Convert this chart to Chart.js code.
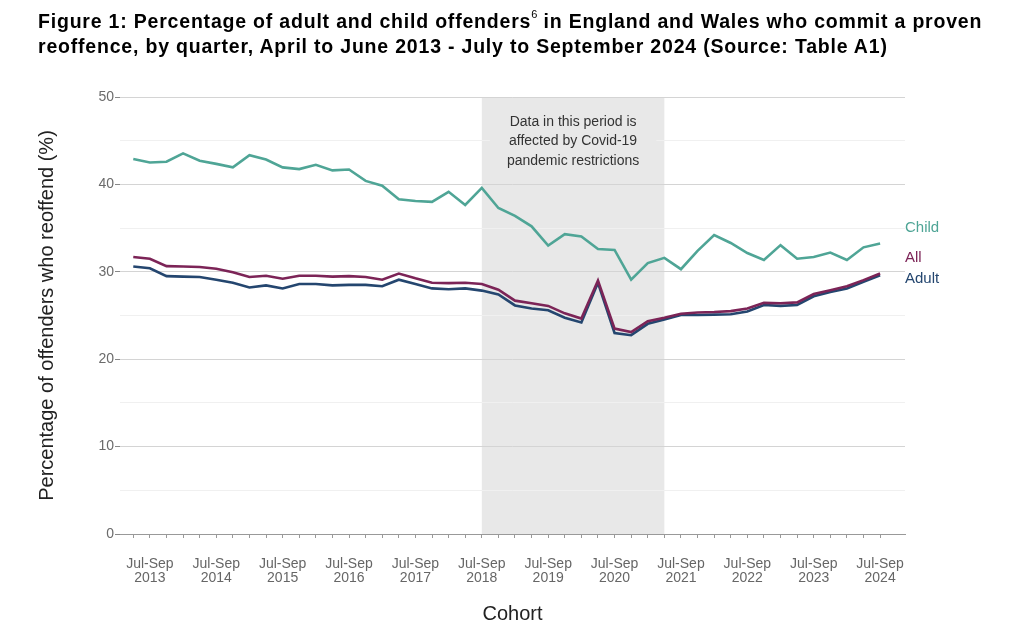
<!DOCTYPE html>
<html>
<head>
<meta charset="utf-8">
<script src="https://cdn.jsdelivr.net/npm/chart.js@4.4.1/dist/chart.umd.min.js"></script>
<style>
    html, body { margin: 0; padding: 0; background: #fff; }
    #wrap { position: relative; width: 1024px; height: 642px; }
    #title {
        position: absolute; left: 38px; top: 4px;
        font-family: "Liberation Sans", Arial, sans-serif;
        font-weight: bold; font-size: 19.5px; line-height: 25px; color: #000;
        letter-spacing: 0.8px;
        white-space: nowrap;
    }
    #title sup { font-size: 11px; font-weight: normal; letter-spacing: 0; position: relative; top: -2px; }
    canvas { position: absolute; left: 0; top: 0; }
</style>
</head>
<body>
<div id="wrap">
    <canvas id="reoffendChart" width="1024" height="642"></canvas>
    <div id="title">Figure 1: Percentage of adult and child offenders<sup>6</sup> in England and Wales who commit a proven<br>reoffence, by quarter, April to June 2013 - July to September 2024 (Source: Table A1)</div>
</div>
<script>
// Quý (cohort)
const quarters = [
    'Apr-Jun 2013', 'Jul-Sep 2013', 'Oct-Dec 2013',
    'Jan-Mar 2014', 'Apr-Jun 2014', 'Jul-Sep 2014', 'Oct-Dec 2014',
    'Jan-Mar 2015', 'Apr-Jun 2015', 'Jul-Sep 2015', 'Oct-Dec 2015',
    'Jan-Mar 2016', 'Apr-Jun 2016', 'Jul-Sep 2016', 'Oct-Dec 2016',
    'Jan-Mar 2017', 'Apr-Jun 2017', 'Jul-Sep 2017', 'Oct-Dec 2017',
    'Jan-Mar 2018', 'Apr-Jun 2018', 'Jul-Sep 2018', 'Oct-Dec 2018',
    'Jan-Mar 2019', 'Apr-Jun 2019', 'Jul-Sep 2019', 'Oct-Dec 2019',
    'Jan-Mar 2020', 'Apr-Jun 2020', 'Jul-Sep 2020', 'Oct-Dec 2020',
    'Jan-Mar 2021', 'Apr-Jun 2021', 'Jul-Sep 2021', 'Oct-Dec 2021',
    'Jan-Mar 2022', 'Apr-Jun 2022', 'Jul-Sep 2022', 'Oct-Dec 2022',
    'Jan-Mar 2023', 'Apr-Jun 2023', 'Jul-Sep 2023', 'Oct-Dec 2023',
    'Jan-Mar 2024', 'Apr-Jun 2024', 'Jul-Sep 2024'
];

const childRate = [
    42.9, 42.5, 42.6, 43.55, 42.7, 42.35, 41.95, 43.35, 42.85, 41.95,
    41.75, 42.25, 41.6, 41.7, 40.4, 39.85, 38.3, 38.1, 38.0, 39.15,
    37.65, 39.6, 37.3, 36.4, 35.2, 33.0, 34.3, 34.05, 32.6, 32.5,
    29.1, 31.0, 31.6, 30.3, 32.4, 34.2, 33.3, 32.15, 31.35, 33.05,
    31.5, 31.7, 32.2, 31.35, 32.8, 33.25
];

const allRate = [
    31.7, 31.5, 30.65, 30.6, 30.55, 30.35, 29.95, 29.4, 29.55, 29.2,
    29.55, 29.55, 29.45, 29.5, 29.4, 29.1, 29.8, 29.25, 28.75, 28.7,
    28.75, 28.6, 27.95, 26.7, 26.4, 26.1, 25.25, 24.65, 29.0, 23.5,
    23.1, 24.35, 24.75, 25.2, 25.35, 25.4, 25.5, 25.8, 26.45, 26.4,
    26.5, 27.45, 27.9, 28.35, 29.05, 29.8
];

const adultRate = [
    30.6, 30.4, 29.5, 29.45, 29.4, 29.1, 28.75, 28.2, 28.45, 28.1,
    28.6, 28.6, 28.45, 28.5, 28.5, 28.35, 29.1, 28.6, 28.1, 28.0,
    28.1, 27.85, 27.4, 26.15, 25.8, 25.6, 24.75, 24.2, 28.75, 23.0,
    22.75, 24.05, 24.55, 25.05, 25.05, 25.1, 25.15, 25.45, 26.2, 26.1,
    26.2, 27.2, 27.7, 28.1, 28.85, 29.6
];

const yTicks = [0, 10, 20, 30, 40, 50];

// Giai đoạn Covid (chỉ số quý đầu / cuối)
const covidRange = [21, 32];
const covidNote = ['Data in this period is', 'affected by Covid-19', 'pandemic restrictions'];

// Nhãn cuối đường
const seriesNames = ['Child', 'All', 'Adult'];
const seriesColors = ['#4fa596', '#7c2457', '#24466f'];
const labelValues = [35.0, 31.6, 29.2];

const FONT = '"Liberation Sans", Arial, sans-serif';

function toPoints(values) {
    return values.map((v, i) => ({ x: i, y: v }));
}

function covidBounds(chart) {
    const x = chart.scales.x;
    return [x.getPixelForValue(covidRange[0]), x.getPixelForValue(covidRange[1])];
}

const covidPlugin = {
    id: 'covidShade',
    // nền xám vẽ trước lưới
    beforeDraw(chart) {
        const { ctx, chartArea } = chart;
        const [x1, x2] = covidBounds(chart);
        ctx.save();
        ctx.fillStyle = '#e8e8e8';
        ctx.fillRect(x1, chartArea.top, x2 - x1, chartArea.bottom - chartArea.top);
        ctx.restore();
    },
    // chữ vẽ sau lưới
    beforeDatasetsDraw(chart) {
        const { ctx, chartArea } = chart;
        const [x1, x2] = covidBounds(chart);
        ctx.save();
        ctx.fillStyle = '#e8e8e8';
        ctx.fillRect(x1 + 8, chartArea.top + 14, x2 - x1 - 16, 58);
        ctx.fillStyle = '#333';
        ctx.font = '14px ' + FONT;
        ctx.textAlign = 'center';
        ctx.textBaseline = 'middle';
        const cx = (x1 + x2) / 2;
        covidNote.forEach((line, i) => {
            ctx.fillText(line, cx, chartArea.top + 25 + i * 19.5);
        });
        ctx.restore();
    }
};

const endLabelPlugin = {
    id: 'endLabels',
    afterDatasetsDraw(chart) {
        const { ctx, chartArea, scales } = chart;
        ctx.save();
        ctx.font = '15px ' + FONT;
        ctx.textAlign = 'left';
        ctx.textBaseline = 'middle';
        seriesNames.forEach((name, i) => {
            ctx.fillStyle = seriesColors[i];
            ctx.fillText(name, chartArea.right, scales.y.getPixelForValue(labelValues[i]));
        });
        ctx.restore();
    }
};

const ctx = document.getElementById('reoffendChart').getContext('2d');

new Chart(ctx, {
    type: 'line',
    data: {
        datasets: [
            { label: 'Child', data: toPoints(childRate), borderColor: seriesColors[0] },
            { label: 'All', data: toPoints(allRate), borderColor: seriesColors[1] },
            { label: 'Adult', data: toPoints(adultRate), borderColor: seriesColors[2] }
        ].map(ds => Object.assign(ds, {
            borderWidth: 2.6,
            pointRadius: 0,
            tension: 0,
            fill: false
        }))
    },
    options: {
        responsive: false,
        animation: false,
        events: [],
        layout: {
            padding: { top: 97, left: 31, right: 119, bottom: 12 }
        },
        plugins: {
            legend: { display: false },
            tooltip: { enabled: false }
        },
        scales: {
            x: {
                type: 'linear',
                min: -0.8,
                max: 46.5,
                afterBuildTicks: function(scale) {
                    scale.ticks = quarters.map((q, i) => ({ value: i }));
                },
                afterFit: function(scale) {
                    scale.height = 96;
                },
                grid: {
                    drawOnChartArea: false,
                    drawTicks: true,
                    tickLength: 4,
                    tickColor: '#999'
                },
                border: { display: true, color: '#999', width: 1 },
                ticks: {
                    autoSkip: false,
                    maxRotation: 0,
                    padding: 19,
                    color: '#666',
                    font: { family: FONT, size: 14, lineHeight: 1.0 },
                    callback: function(value) {
                        const q = quarters[value];
                        if (!q || !q.startsWith('Jul-Sep')) return '';
                        return q.split(' ');
                    }
                },
                title: {
                    display: true,
                    text: 'Cohort',
                    color: '#222',
                    font: { family: FONT, size: 20 },
                    padding: { top: 4, bottom: 4 }
                }
            },
            y: {
                min: 0,
                max: 50,
                afterBuildTicks: function(scale) {
                    const t = [];
                    for (let v = 0; v <= 50; v += 5) t.push({ value: v });
                    scale.ticks = t;
                },
                afterFit: function(scale) {
                    scale.width = 89;
                },
                grid: {
                    tickLength: 5,
                    color: function(c) {
                        return yTicks.includes(c.tick.value) ? '#d4d4d4' : '#f0f0f0';
                    },
                    tickColor: function(c) {
                        return yTicks.includes(c.tick.value) ? '#888' : 'rgba(0,0,0,0)';
                    }
                },
                border: { display: false },
                ticks: {
                    padding: 1,
                    color: '#6b6b6b',
                    font: { family: FONT, size: 14 },
                    callback: function(value) {
                        return yTicks.includes(value) ? value : '';
                    }
                },
                title: {
                    display: true,
                    text: 'Percentage of offenders who reoffend (%)',
                    color: '#222',
                    font: { family: FONT, size: 20 },
                    padding: { top: 4, bottom: 4 }
                }
            }
        }
    },
    plugins: [covidPlugin, endLabelPlugin]
});
</script>
</body>
</html>
